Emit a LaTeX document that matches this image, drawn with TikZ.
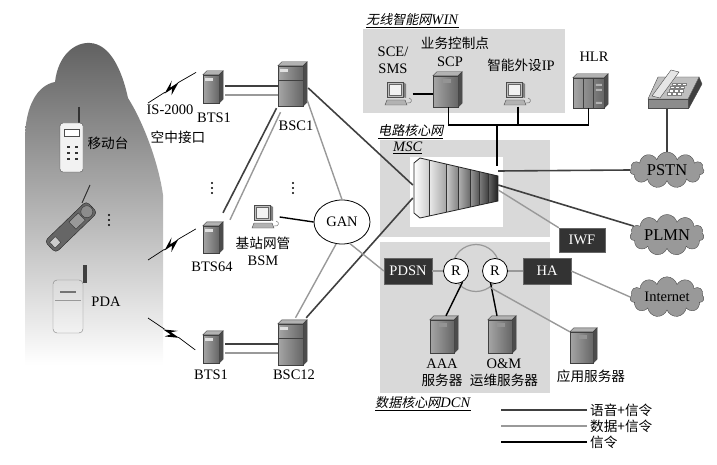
\documentclass[tikz,border=0pt]{standalone}
\usepackage{fontspec}
\setmainfont{Liberation Serif}
\newfontfamily\cjk{Noto Sans CJK SC}[Scale=0.94]
\newfontfamily\cjkit{Noto Sans CJK SC}[Scale=0.9,FakeSlant=0.2]
\usetikzlibrary{shapes.geometric,shapes.symbols}
\tikzset{
  voice/.style={line width=1.6pt,black!75},
  data/.style={line width=1.4pt,black!40},
  sig/.style={line width=1.4pt,black},
  tower/.style={draw=black!75,left color=black!35,right color=black!60,inner sep=0},
  darkbox/.style={draw=black!60,fill=black!80,text=white,minimum width=48,minimum height=26,inner sep=0},
  router/.style={circle,draw,line width=0.8pt,fill=white,minimum size=25,inner sep=0},
  netcloud/.style={cloud,cloud puffs=11,aspect=2.3,draw=black!70,fill=black!40,minimum width=74,minimum height=33,inner sep=0},
  pcbox/.style={minimum width=27,minimum height=25,inner sep=0},
  lbl/.style={inner sep=0},
  pc/.pic={
    \fill[black!50] (4,-12) -- (7,-10) -- (7,4) -- (4,3) -- cycle;
    \draw[black!70,fill=black!25] (-12,-12) rectangle (4,3);
    \draw[black!60,fill=black!5] (-10,-10) rectangle (2,1);
    \draw[black!70,fill=black!30] (-12,6) -- (6,6) -- (8,11) -- (-14,11) -- cycle;
    \draw[black!60] (8,9) .. controls (13,10) and (14,5) .. (10,4);
  },
  bolt/.pic={
    \draw[line width=0.7pt] (0,0) -- (20,0);
    \fill (19,1) -- (32,-6) -- (27,-1) -- (37,-1) -- (24,6) -- (28,1) -- cycle;
    \draw[line width=0.7pt] (36,-1) -- (57,0);
  },
  vdots/.pic={
    \foreach \d in {-5,0,5} \fill (0,\d) circle (1.1);
  }
}
\begin{document}
\begin{tikzpicture}[x=1pt,y=-1pt,font=\fontsize{14.5}{17}\selectfont]
\useasboundingbox (0,0) rectangle (717,465);
% mountain with the mobiles
\shade[top color=black!62,bottom color=white] (25,365) -- (25,140)
  .. controls (25,105) and (38,85) .. (55,82) .. controls (58,55) and (75,42) .. (90,43)
  .. controls (110,44) and (122,70) .. (128,98) .. controls (142,120) and (158,160) .. (163,195)
  -- (163,365) -- cycle;
\draw[line width=1.5pt,black!80] (79,107) -- (79,124);
\draw[black!70,fill=black!5,rounded corners=3pt] (60,123) rectangle (83,172);
\draw[black!70,fill=white] (64,129) rectangle (79,136);
\foreach \y in {146,152,158} \foreach \x in {67,75} \fill[black!80] (\x,\y) rectangle ++(3,2);
\draw[line width=1pt,black!80] (82,203) -- (90,185);
\begin{scope}[shift={(71,227)},rotate=44]
  \draw[black!85,fill=black!60,rounded corners=4pt] (-29,-8) rectangle (29,8);
  \draw[black!80,fill=black!40] (2,-5) rectangle (15,5);
  \draw[black!80,fill=black!45] (22,0) circle (6);
  \draw[black!80,fill=black!20] (-26,-4) rectangle (-18,4);
\end{scope}
\fill[black!75] (83,265) rectangle (87,283);
\draw[black!50,top color=black!15,bottom color=black!5,rounded corners=4pt] (53,280) rectangle (83,333);
\draw[black!40] (55,300) -- (81,300);
\draw[line width=1.5pt,black!55] (60,292) -- (76,292);
\node[lbl] (ms) at (108,143) {\cjk 移动台};
\node[lbl] (pda) at (106,302) {PDA};
\pic at (109,220) {vdots};
% bolts
\pic[rotate=32.5] at (148,103) {bolt};
\pic[rotate=33] at (148,260) {bolt};
\pic[rotate=-34] at (148,318) {bolt};
\node[lbl] (air) at (170,110) {IS-2000};
\node[lbl] (air2) at (178,137) {\cjk 空中接口};
% core areas
\fill[black!15] (363,29) rectangle (565,113);
\fill[black!15] (380,140) rectangle (550,237);
\fill[white] (410,157) rectangle (503,227);
\fill[black!15] (380,242) rectangle (550,393);
\node[lbl,anchor=west] (winlbl) at (366,21) {\underline{{\cjkit 无线智能网}\textit{WIN}}};
\node[lbl,anchor=west] (cslbl) at (378,132) {\underline{\cjkit 电路核心网}};
\node[lbl,anchor=west] (msclbl) at (393,148) {\underline{\textit{MSC}}};
\node[lbl,anchor=west] (dcnlbl) at (375,404) {\underline{{\cjkit 数据核心网}\textit{DCN}}};
% MSC
\node[minimum width=84,minimum height=60,inner sep=0] (msc) at (456,188) {};
\coordinate (msctop) at (497,166);
\coordinate (mscout) at (498,171);
\pgfmathsetmacro\tb{158+9*18/78}
\pgfmathsetmacro\bb{218-9*17/78}
\shade[left color=white,right color=black!20] (414,163) -- (420,158) -- (429,\tb) -- (429,\bb) -- (420,218) -- (414,213) -- cycle;
\foreach \a/\b/\ca/\cb in {429/446/8/35,446/458/20/48,458/470/30/58,470/479/40/66,479/488/50/74,488/498/60/88}{
  \pgfmathsetmacro\ta{158+(\a-420)*18/78}
  \pgfmathsetmacro\tb{158+(\b-420)*18/78}
  \pgfmathsetmacro\ba{218-(\a-420)*17/78}
  \pgfmathsetmacro\bb{218-(\b-420)*17/78}
  \shade[left color=black!\ca,right color=black!\cb] (\a,\ta) -- (\b,\tb) -- (\b,\bb) -- (\a,\ba) -- cycle;
  \draw[black!80] (\a,\ta) -- (\a,\ba);
}
\draw[black!85,line width=0.8pt] (414,163) -- (420,158) -- (498,176) -- (498,201) -- (420,218) -- (414,213) -- cycle;
% servers
\node[tower,minimum width=16,minimum height=28] (bts1) at (211,89) {};
\node[tower,minimum width=16,minimum height=27] (bts64) at (211,239.5) {};
\node[tower,minimum width=16,minimum height=28] (bts1b) at (211,349) {};
\node[tower,minimum width=25,minimum height=40] (bsc1) at (290.5,86) {};
\node[tower,minimum width=25,minimum height=41] (bsc12) at (290.5,344.5) {};
\node[tower,minimum width=25,minimum height=31] (scp) at (445.5,91.5) {};
\node[tower,minimum width=24,minimum height=33] (aaa) at (442,336.5) {};
\node[tower,minimum width=24,minimum height=33] (om) at (500,336.5) {};
\node[tower,minimum width=23,minimum height=31] (app) at (581.5,347.5) {};
\node[tower,minimum width=31,minimum height=30] (hlr) at (588.5,93) {};
\foreach \n in {bts1,bts64,bts1b,bsc1,bsc12,scp,aaa,om,app,hlr}{
  \draw[black!75,fill=black!30] (\n.north west) -- ++(4,-4) -- ([shift={(4,-4)}]\n.north east) -- (\n.north east) -- cycle;
  \draw[black!75,fill=black!70] (\n.north east) -- ++(4,-4) -- ([shift={(4,-4)}]\n.south east) -- (\n.south east) -- cycle;
}
\foreach \n in {bts1,bts64,bts1b,bsc1,bsc12}
  \fill[black!12] ([shift={(2,3)}]\n.north west) rectangle ++(8,3);
\foreach \n in {scp,aaa,om,app}
  \fill[black!42] ([shift={(-3,3)}]\n.north) rectangle ++(8,4);
\foreach \n in {bsc1,bsc12}
  \draw[black!75] ([shift={(0,14)}]\n.north west) -- ([shift={(0,14)}]\n.north east);
\draw[black!75] ([xshift=10pt]hlr.north west) -- ([xshift=10pt]hlr.south west)
  ([xshift=20pt]hlr.north west) -- ([xshift=20pt]hlr.south west);
\fill[black!30] ([shift={(23,6)}]hlr.north west) rectangle ++(6,2)
  ([shift={(23,11)}]hlr.north west) rectangle ++(6,2) ([shift={(23,24)}]hlr.north west) rectangle ++(6,2);
% computers
\node[pcbox] (sce) at (399,94) {};
\node[pcbox] (ip) at (518,94) {};
\node[pcbox] (bsm) at (266,217) {};
\foreach \n in {sce,ip,bsm} \pic at (\n) {pc};
% telephone
\node[minimum width=52,minimum height=40,inner sep=0] (phone) at (667,89) {};
\draw[black!70,fill=black!75] (688,99) -- (699,77) -- (702,84) -- (689,108) -- cycle;
\draw[black!70,fill=black!25] (658,77) -- (699,77) -- (688,99) -- (648,99) -- cycle;
\draw[black!70,fill=black!45] (648,99) rectangle (688,108);
\draw[black!70,fill=black!10] (652,96) -- (671,70) -- (679,72) -- (660,98) -- cycle;
\foreach \i in {0,...,3} \foreach \j in {0,1,2}
  \draw[black!50,fill=white] ({672+\j*5-\i*1.5},{83+\i*3.2}) rectangle ++(4,2.4);
% networks
\node[ellipse,draw,line width=0.8pt,fill=white,minimum width=56,minimum height=44,inner sep=0] (gan) at (342,222) {GAN};
\node[darkbox] (pdsn) at (408,271) {PDSN};
\node[darkbox] (ha) at (547,271) {HA};
\node[darkbox,minimum width=46,minimum height=24] (iwf) at (582,240) {IWF};
\node[circle,draw=black!40,line width=1.2pt,minimum size=47,inner sep=0] (ring) at (476,268) {};
\node[router] (r1) at (456,271) {R};
\node[router] (r2) at (495,271) {R};
\node[netcloud,font=\fontsize{16.5}{18}\selectfont] (pstn) at (667,170) {PSTN};
\node[netcloud,font=\fontsize{16.5}{18}\selectfont] (plmn) at (667,235) {PLMN};
\node[netcloud] (inet) at (667,297) {Internet};
% labels
\node[lbl] at (214,118) {BTS1};
\node[lbl] at (296,126) {BSC1};
\pic at (212,188) {vdots};
\pic at (293,188) {vdots};
\node[lbl] at (212,267) {BTS64};
\node[lbl,align=center] at (263,251) {{\cjk 基站网管}\\BSM};
\node[lbl] at (211,375) {BTS1};
\node[lbl] at (294,375) {BSC12};
\node[lbl,align=center] at (393,60) {SCE/\\SMS};
\node[lbl] at (455,43) {\cjk 业务控制点};
\node[lbl] at (450,62) {SCP};
\node[lbl] at (521,65) {{\cjk 智能外设}IP};
\node[lbl] at (594,57) {HLR};
\node[lbl,align=center] at (442,373) {AAA\\{\cjk 服务器}};
\node[lbl,align=center] at (504,373) {O\&M\\{\cjk 运维服务器}};
\node[lbl] at (591,376) {\cjk 应用服务器};
% links
\draw[voice] ([shift={(6,-3)}]bts1.east) -- (bsc1.west);
\draw[data] ([shift={(6,6)}]bts1.east) -- ([shift={(0,9)}]bsc1.west);
\draw[voice] ([shift={(6,-5)}]bts1b.east) -- ([shift={(0,-0.5)}]bsc12.west);
\draw[data] ([shift={(6,4)}]bts1b.east) -- ([shift={(0,8.5)}]bsc12.west);
\draw[voice] ([shift={(-14,2)}]bsc1.south) -- ([shift={(12,-13)}]bts64.north);
\draw[data] ([shift={(-10,6)}]bsc1.south) -- ([shift={(19,-6)}]bts64.north);
\draw[data] ([shift={(4,-6)}]bsc1.south east) -- (gan.north);
\draw[voice] ([shift={(5,2)}]bsc1.east) -- ([shift={(-1,-3)}]msc.west);
\draw[voice] ([shift={(3,-6)}]bsc12.north east) -- ([shift={(-1,10)}]msc.west);
\draw[data] ([shift={(5,-6)}]bsc12.north) -- (gan.255);
\draw[sig] (bsm.east) -- (gan.west);
\draw[data] (gan.290) -- (pdsn.west);
\draw[data] (pdsn.east) -- (r1.west);
\draw[data] (r2.east) -- (ha.west);
\draw[data] (ha.east) -- (inet.west);
\draw[sig] (r1.300) -- ([shift={(4,-4)}]aaa.north);
\draw[sig] (r2.250) -- ([shift={(-3,-4)}]om.north);
\draw[data] (ring.-54) -- (app.north west);
\draw[voice] (mscout) -- (pstn.west);
\draw[voice] ([shift={(0,-3)}]msc.east) -- (plmn.165);
\draw[data] ([shift={(0,2)}]msc.east) -- (iwf.north west);
\draw[voice] (phone.south) -- (pstn.north);
\draw[sig] (sce.east) -- (sce.east -| scp.west);
\draw[sig] ([xshift=3pt]scp.south) -- ++(0,18) coordinate (bus) -| (hlr.south);
\draw[sig] (ip.south) -- (ip.south |- bus);
\draw[sig] (msctop |- bus) -- (msctop);
% legend
\node[lbl,anchor=west] (lg1) at (590,410) {\cjk 语音+信令};
\node[lbl,anchor=west] (lg2) at (590,426) {\cjk 数据+信令};
\node[lbl,anchor=west] (lg3) at (590,442) {\cjk 信令};
\draw[voice,line width=2.2pt] ([xshift=-3pt]lg1.west) -- ++(-86,0);
\draw[data] ([xshift=-3pt]lg2.west) -- ++(-86,0);
\draw[sig] ([xshift=-3pt]lg3.west) -- ++(-86,0);
\end{tikzpicture}
\end{document}
